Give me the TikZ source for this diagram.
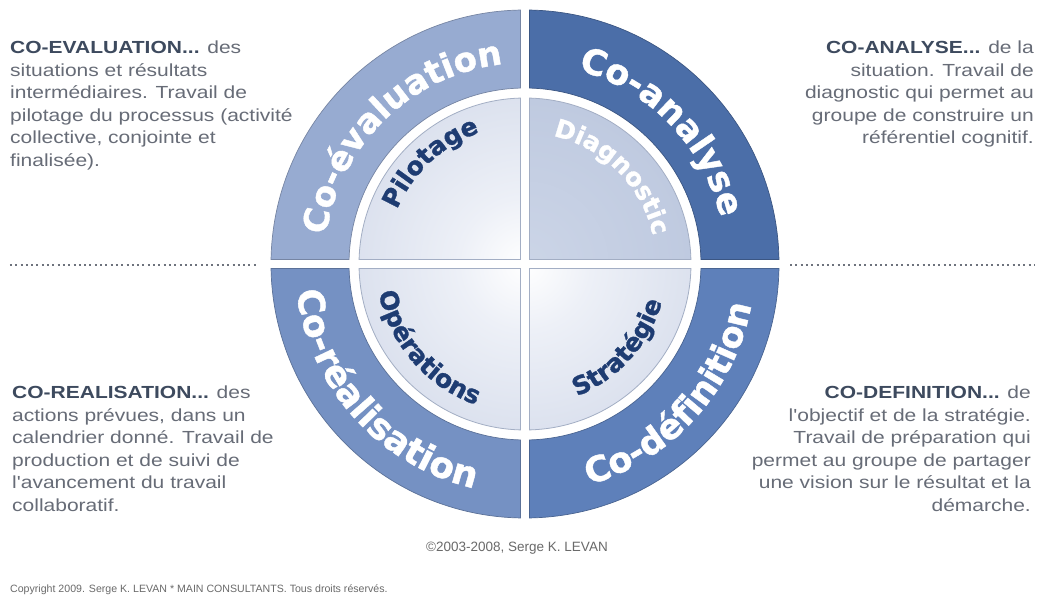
\documentclass[tikz,border=0pt]{standalone}
\usepackage{fontspec}
\setmainfont{Liberation Sans}
\newfontfamily\ringfont{DejaVu Sans}[BoldFeatures={FakeBold=1.2}]
\newfontfamily\sidefont{Liberation Sans}[FakeStretch=1.2]
\usetikzlibrary{decorations.text}
\definecolor{bandTL}{HTML}{97ABD1}
\definecolor{bandTR}{HTML}{4B6EA8}
\definecolor{bandBL}{HTML}{7591C3}
\definecolor{bandBR}{HTML}{5E80BA}
\definecolor{navy}{HTML}{1E3C72}
\definecolor{rimL}{HTML}{C0CAE0}
\definecolor{midL}{HTML}{EDF0F7}
\definecolor{innerC}{HTML}{CCD5E7}
\definecolor{innerR}{HTML}{B2BFD9}
\definecolor{rimline}{HTML}{A3AEC4}
\definecolor{headc}{HTML}{3D4A5E}
\definecolor{bodyc}{HTML}{676C77}
\definecolor{dotc}{HTML}{6E737D}
\definecolor{footc}{HTML}{6A6A6A}
\pgfdeclareradialshading{qlight}{\pgfpoint{0bp}{0bp}}{color(0bp)=(white); color(10bp)=(midL); color(50bp)=(rimL)}
\pgfdeclareradialshading{qdark}{\pgfpoint{0bp}{0bp}}{color(0bp)=(innerC); color(50bp)=(innerR)}
\begin{document}
\begin{tikzpicture}[x=1pt,y=1pt,
  ringlab/.style 2 args={decorate, decoration={text along path, text align=center,
     text color=white, text={|\ringfont\bfseries\fontsize{#2}{#2}\selectfont|#1}}},
  innerlab/.style 2 args={decorate, decoration={text along path, text align=center,
     text color=#2, text={|\ringfont\bfseries\fontsize{25}{25}\selectfont|#1}}},
  sidetxt/.style={inner sep=0pt, text=bodyc, font={\sidefont\fontsize{17.5}{22.5}\selectfont}},
  dotline/.style={dotc, line width=2pt, dash pattern=on 2pt off 3.3pt}]
\useasboundingbox (-525,-348) rectangle (513,264);
\fill[white] (-525,-348) rectangle (513,264);

% outer ring sectors
\foreach \a/\c in {0/bandTR, 90/bandTL, 180/bandBL, 270/bandBR} {
  \filldraw[fill=\c, draw=\c!78!black, line width=0.7pt]
    ({\a+1.02}:254) arc[start angle={\a+1.02}, end angle={\a+88.98}, radius=254]
    -- ({\a+88.53}:176) arc[start angle={\a+88.53}, end angle={\a+1.47}, radius=176] -- cycle;
}

% inner disc quadrants
\foreach \a/\sh in {0/qdark, 90/qlight, 180/qlight, 270/qlight} {
  \begin{scope}
    \clip ({\a+45}:6.36) -- ({\a+1.55}:166) arc[start angle={\a+1.55}, end angle={\a+88.45}, radius=166] -- cycle;
    \shade[shading=\sh] (0,0) circle[radius=166];
  \end{scope}
  \draw[rimline, line width=0.8pt]
    ({\a+45}:6.36) -- ({\a+1.55}:166) arc[start angle={\a+1.55}, end angle={\a+88.45}, radius=166] -- cycle;
}

% ring labels
\path[ringlab={Co-évaluation}{34}] (184:201) arc[start angle=184, end angle=84, radius=201];
\path[ringlab={Co-analyse}{35}] (94:201) arc[start angle=94, end angle=-6, radius=201];
\path[ringlab={Co-réalisation}{36}] (172:230) arc[start angle=172, end angle=272, radius=230];
\path[ringlab={Co-définition}{35}] (-92:230) arc[start angle=-92, end angle=8, radius=230];

% inner labels
\path[innerlab={Pilotage}{navy}] (178:139) arc[start angle=178, end angle=88, radius=139];
\path[innerlab={Diagnostic}{white}] (90:131) arc[start angle=90, end angle=0, radius=131];
\path[innerlab={Opérations}{navy}] (176:149) arc[start angle=176, end angle=266, radius=149];
\path[innerlab={Stratégie}{navy}] (-87:142) arc[start angle=-87, end angle=3, radius=142];

% dotted separators
\coordinate (dl1) at (-515,-1);
\coordinate (dl2) at (-267,-1);
\coordinate (dr1) at (265,-1);
\coordinate (dr2) at (510,-1);
\draw[dotline] (dl1) -- (dl2);
\draw[dotline] (dr1) -- (dr2);

% side texts
\node[sidetxt, anchor=north west, align=left] (tl) at (-515,223)
 {\textcolor{headc}{\textbf{CO-EVALUATION...}} des\\situations et résultats\\intermédiaires. Travail de\\pilotage du processus (activité\\collective, conjointe et\\finalisée).};
\node[sidetxt, anchor=north east, align=right] (tr) at (509,223)
 {\textcolor{headc}{\textbf{CO-ANALYSE...}} de la\\situation. Travail de\\diagnostic qui permet au\\groupe de construire un\\référentiel cognitif.};
\node[sidetxt, anchor=north west, align=left] (bl) at (-513,-122)
 {\textcolor{headc}{\textbf{CO-REALISATION...}} des\\actions prévues, dans un\\calendrier donné. Travail de\\production et de suivi de\\l'avancement du travail\\collaboratif.};
\node[sidetxt, anchor=north east, align=right] (br) at (506,-122)
 {\textcolor{headc}{\textbf{CO-DEFINITION...}} de\\l'objectif et de la stratégie.\\Travail de préparation qui\\permet au groupe de partager\\une vision sur le résultat et la\\démarche.};

% footers
\node[inner sep=0pt, text=footc, font={\fontsize{13.5}{15}\selectfont}] (c1) at (-8,-284) {©2003-2008, Serge K. LEVAN};
\node[inner sep=0pt, anchor=west, text=footc, font={\fontsize{10.6}{12}\selectfont}] (c2) at (-515,-326) {Copyright 2009. Serge K. LEVAN * MAIN CONSULTANTS. Tous droits réservés.};
\end{tikzpicture}
\end{document}
